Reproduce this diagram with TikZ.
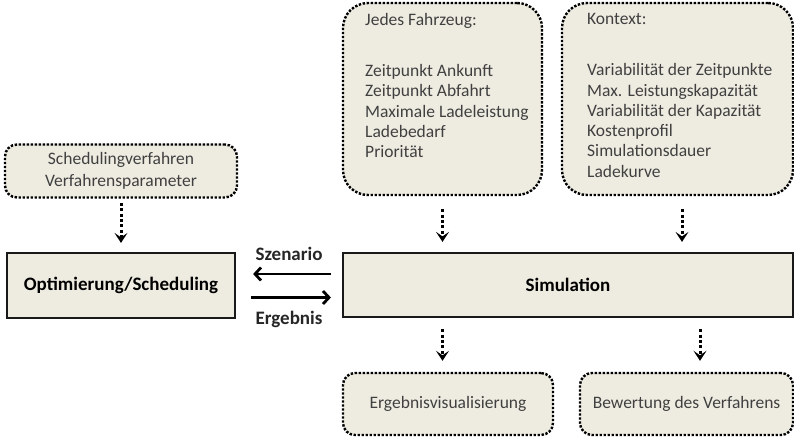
\documentclass[tikz,border=0pt]{standalone}
\usepackage{fontspec}
\setmainfont{Carlito}
\usetikzlibrary{arrows.meta}
\definecolor{boxfill}{RGB}{238,236,225}
\definecolor{boxtext}{RGB}{64,64,64}

\begin{document}
\begin{tikzpicture}[x=1pt,y=-1pt,
  solidbox/.style={draw=black!90,line width=2.2pt,fill=boxfill,inner sep=0pt,
    font=\bfseries\fontsize{19}{22}\selectfont},
  dotbox/.style={draw=black,line width=2.4pt,dash pattern=on 2.4pt off 1.6pt,
    fill=boxfill,text=boxtext,inner sep=0pt,font=\fontsize{17.5}{22}\selectfont},
  listtext/.style={text=boxtext,inner sep=0pt,align=left,font=\fontsize{17.5}{20.3}\selectfont},
  dotarrow/.style={line width=3pt,dash pattern=on 3pt off 2.4pt,
    -{Stealth[length=10pt,width=13pt,inset=4.5pt]}},
  flowarrow/.style={line width=2.8pt,-{Straight Barb[length=6pt,width=13pt]}},
  lbl/.style={inner sep=0pt,text=black!85,font=\bfseries\fontsize{19}{22}\selectfont}]
\useasboundingbox (0,0) rectangle (794,437);
\node[dotbox,rounded corners=12pt,minimum width=232pt,minimum height=53pt,align=center]
  (sched) at (121,171) {Schedulingverfahren\\Verfahrensparameter};
\node[solidbox,minimum width=228pt,minimum height=65pt] (opt) at (121,285.5) {Optimierung/Scheduling};
\node[solidbox,minimum width=450pt,minimum height=64pt] (sim) at (568,285) {Simulation};
\node[dotbox,rounded corners=25pt,minimum width=199pt,minimum height=192pt] (fzg) at (442.5,99) {};
\node[listtext,anchor=north west] (fzgtext) at (365,13)
  {Jedes Fahrzeug:\\[31pt]Zeitpunkt Ankunft\\Zeitpunkt Abfahrt\\Maximale Ladeleistung\\Ladebedarf\\Priorität};
\node[dotbox,rounded corners=25pt,minimum width=231pt,minimum height=192pt] (ktx) at (677.5,99) {};
\node[listtext,anchor=north west] (ktxtext) at (587,13)
  {Kontext:\\[31pt]Variabilität der Zeitpunkte\\Max. Leistungskapazität\\Variabilität der Kapazität\\Kostenprofil\\Simulationsdauer\\Ladekurve};
\node[dotbox,rounded corners=12pt,minimum width=210pt,minimum height=62pt] (vis) at (448,404) {Ergebnisvisualisierung};
\node[dotbox,rounded corners=12pt,minimum width=213pt,minimum height=62pt] (bew) at (686.5,404) {Bewertung des Verfahrens};

\draw[dotarrow,shorten <=4pt,shorten >=9pt] (sched) -- (opt);
\draw[dotarrow,shorten <=13pt,shorten >=10pt] (fzg.south) -- (fzg.south |- sim.north);
\draw[dotarrow,shorten <=13pt,shorten >=10pt] ([xshift=4.5pt]ktx.south) -- ([xshift=4.5pt]ktx.south |- sim.north);
\draw[dotarrow,shorten <=11pt,shorten >=11pt] (sim.south -| fzg.south) -- (vis.north -| fzg.south);
\draw[dotarrow,shorten <=11pt,shorten >=11pt] ([xshift=13.5pt]bew.north |- sim.south) -- ([xshift=13.5pt]bew.north);

\draw[flowarrow,shorten <=11pt,shorten >=17pt] ([yshift=11pt]sim.west) -- ([yshift=11pt]sim.west -| opt.east)
  node[lbl,midway,above=12pt] (szlbl) {Szenario};
\draw[flowarrow,shorten <=15pt,shorten >=11pt] ([yshift=-12pt]opt.east) -- ([yshift=-12pt]opt.east -| sim.west)
  node[lbl,midway,below=12pt] (erglbl) {Ergebnis};
\end{tikzpicture}
\end{document}
